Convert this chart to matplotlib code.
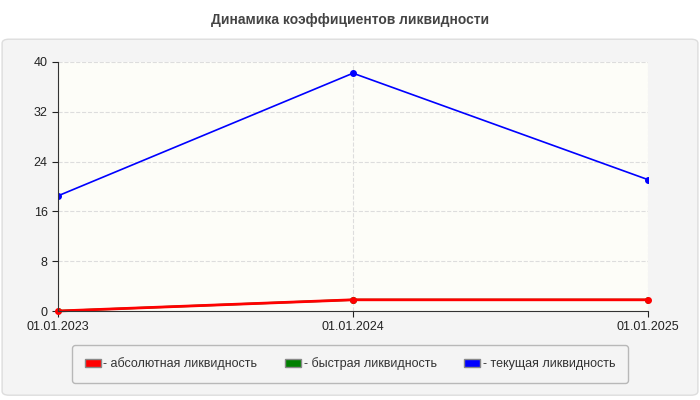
import matplotlib
matplotlib.use("Agg")
import matplotlib.pyplot as plt
from matplotlib.patches import FancyBboxPatch, Patch

dates = ["01.01.2023", "01.01.2024", "01.01.2025"]
absolute = [0.0, 1.8, 1.8]
quick = [0.0, 1.8, 1.8]
current = [18.5, 38.2, 21.1]
yticks = [0, 8, 16, 24, 32, 40]

fig = plt.figure(figsize=(7, 4), dpi=100)
fig.patch.set_facecolor("white")
bg = fig.add_axes([0, 0, 1, 1], zorder=0)
bg.axis("off")
bg.set_xlim(0, 1); bg.set_ylim(0, 1)
bg.add_patch(FancyBboxPatch((0.003, 0.012), 0.994, 0.89, boxstyle="round,pad=0,rounding_size=0.01",
                            facecolor="#f4f4f4", edgecolor="#dddddd", lw=1))
fig.text(0.5, 0.95, "Динамика коэффициентов ликвидности", ha="center", va="center",
         fontsize=10, fontweight="bold", color="#444444", family="Liberation Sans")

ax = fig.add_axes([58/700, 1-311/400, 590/700, 249/400], zorder=1)
ax.set_facecolor("#fdfdf8")
x = list(range(len(dates)))
ax.plot(x, quick, color="green", lw=1.5, marker="o", ms=4)
ax.plot(x, current, color="blue", lw=1.2, marker="o", ms=4)
ax.plot(x, absolute, color="red", lw=2, marker="o", ms=4, clip_on=False)
ax.set_xlim(0, 2)
ax.set_ylim(0, 40)
ax.set_xticks(x, dates)
ax.set_yticks(yticks)
ax.grid(True, color="#dddddd", ls="--", lw=0.8)
for s in ["top", "right"]:
    ax.spines[s].set_visible(False)
for s in ["left", "bottom"]:
    ax.spines[s].set_color("#333333")
ax.tick_params(labelsize=9, colors="#222222", length=4)
for lab in ax.get_xticklabels() + ax.get_yticklabels():
    lab.set_family("Liberation Sans")

handles = [Patch(facecolor=c, edgecolor="#888888") for c in ["red", "green", "blue"]]
labels = ["- абсолютная ликвидность", "- быстрая ликвидность", "- текущая ликвидность"]
leg = fig.legend(handles, labels, loc="center", bbox_to_anchor=(350/700, 1-364/400), ncol=3,
                 frameon=True, handlelength=1.3, handleheight=0.6,
                 handletextpad=0.2, columnspacing=2.2, borderpad=1.0,
                 prop={"family": "Liberation Sans", "size": 9})
leg.get_frame().set_edgecolor("#aaaaaa")
leg.get_frame().set_facecolor("#f4f4f4")
for t in leg.get_texts():
    t.set_color("#333333")
fig.savefig("out.png", dpi=100)
